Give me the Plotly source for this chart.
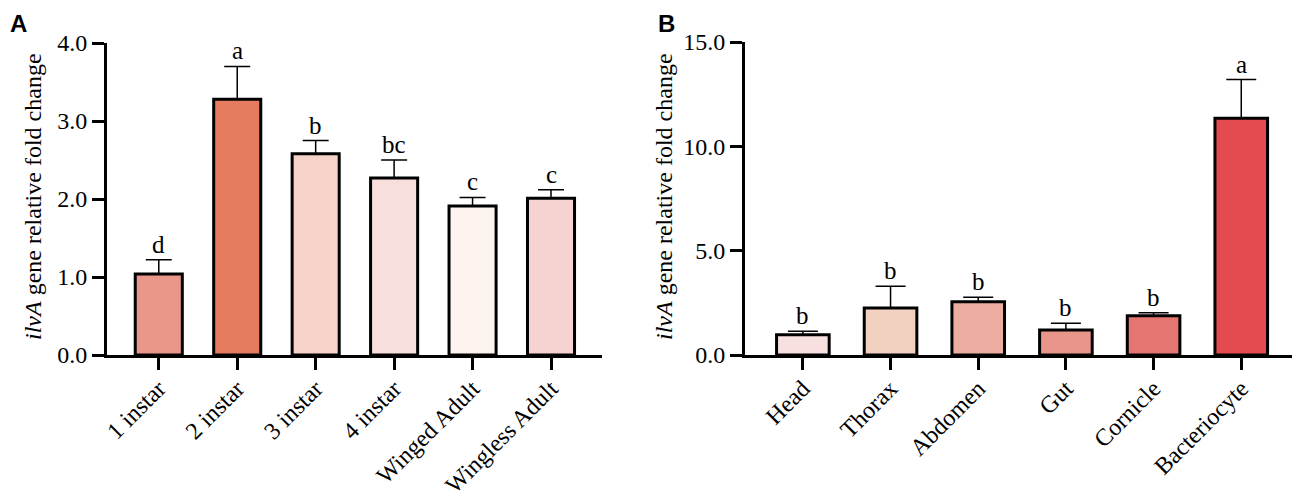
import plotly.graph_objects as go

# Panel A : stades de développement
stages = ["1 instar", "2 instar", "3 instar", "4 instar", "Winged Adult", "Wingless Adult"]
stage_fold = [1.04, 3.28, 2.58, 2.27, 1.91, 2.01]
stage_err = [0.18, 0.42, 0.17, 0.23, 0.11, 0.11]
stage_letters = ["d", "a", "b", "bc", "c", "c"]
stage_colors = ["#E9978A", "#E57C60", "#F6D2C8", "#F8DFDB", "#FDF4F0", "#F6D3D1"]

# Panel B : tissus
tissues = ["Head", "Thorax", "Abdomen", "Gut", "Cornicle", "Bacteriocyte"]
tissue_fold = [0.97, 2.25, 2.55, 1.20, 1.88, 11.35]
tissue_err = [0.17, 1.05, 0.22, 0.32, 0.14, 1.85]
tissue_letters = ["b", "b", "b", "b", "b", "a"]
tissue_colors = ["#F9E0E0", "#F3D1C1", "#EDAEA1", "#E8968B", "#E57571", "#E34B50"]

# La page a une marge de 8 px : on construit la figure en tenant compte de ce décalage
OFF = 8
W, H = 1300 - OFF, 500 - OFF


def px_x(x):
    return (x - OFF) / W


def px_y(y):
    return 1 - (y - OFF) / H


serif = "Liberation Serif"
tick_font = dict(family=serif, size=24, color="black")
cat_font = dict(family=serif, size=24, color="black")

fig = go.Figure()

fig.add_trace(go.Bar(
    x=stages, y=stage_fold, width=0.6,
    marker=dict(color=stage_colors, line=dict(color="black", width=3)),
    error_y=dict(type="data", array=stage_err, arrayminus=[0] * 6, symmetric=False,
                 color="black", thickness=1.5, width=13),
    xaxis="x", yaxis="y", showlegend=False,
))
fig.add_trace(go.Bar(
    x=tissues, y=tissue_fold, width=0.6,
    marker=dict(color=tissue_colors, line=dict(color="black", width=3)),
    error_y=dict(type="data", array=tissue_err, arrayminus=[0] * 6, symmetric=False,
                 color="black", thickness=1.5, width=15),
    xaxis="x2", yaxis="y2", showlegend=False,
))

# Lettres de significativité au-dessus des barres d'erreur
letter_font = dict(family=serif, size=25, color="black")
annotations = []
for cat, v, e, lt in zip(stages, stage_fold, stage_err, stage_letters):
    annotations.append(dict(x=cat, y=v + e, xref="x", yref="y", text=lt, showarrow=False,
                            yanchor="bottom", font=letter_font))
for cat, v, e, lt in zip(tissues, tissue_fold, tissue_err, tissue_letters):
    annotations.append(dict(x=cat, y=v + e, xref="x2", yref="y2", text=lt, showarrow=False,
                            yanchor="bottom", font=letter_font))

# Titres des axes Y (annotations pour garder la position)
ytitle = "<i>ilvA</i> gene relative fold change"
for xpos in [px_x(33), px_x(664)]:
    annotations.append(dict(x=xpos, y=px_y(197), xref="paper", yref="paper", text=ytitle, showarrow=False,
                            textangle=-90, xanchor="center", yanchor="middle",
                            font=dict(family=serif, size=24, color="black")))

# Lettres des panneaux
panel_font = dict(family="Liberation Sans", size=24, color="black")
annotations.append(dict(x=px_x(8), y=px_y(8), xref="paper", yref="paper", text="<b>A</b>", showarrow=False,
                        xanchor="left", yanchor="top", font=panel_font))
annotations.append(dict(x=px_x(656), y=px_y(8), xref="paper", yref="paper", text="<b>B</b>", showarrow=False,
                        xanchor="left", yanchor="top", font=panel_font))

axis_common = dict(showline=True, linecolor="black", linewidth=3, ticks="outside",
                   ticklen=12, tickwidth=3, tickcolor="black", showgrid=False, zeroline=False,
                   automargin=False)

fig.update_layout(
    width=W, height=H,
    margin=dict(l=0, r=0, t=0, b=0),
    plot_bgcolor="white", paper_bgcolor="white",
    xaxis=dict(domain=[px_x(107), px_x(602)], anchor="y", range=[-0.66, 5.65], tickangle=-45,
               tickfont=cat_font, ticklabelstandoff=-5, **axis_common),
    yaxis=dict(domain=[px_y(355), px_y(43)], anchor="x", range=[0, 4], tickvals=[0, 1, 2, 3, 4],
               tickformat=".1f", tickfont=tick_font, **axis_common),
    xaxis2=dict(domain=[px_x(745), 1.0], anchor="y2", range=[-0.66, 5.67], tickangle=-45,
                tickfont=cat_font, ticklabelstandoff=-5, **axis_common),
    yaxis2=dict(domain=[px_y(355), px_y(42)], anchor="x2", range=[0, 15], tickvals=[0, 5, 10, 15],
                tickformat=".1f", tickfont=tick_font, **axis_common),
    annotations=annotations,
)

fig.write_html("out.html")
